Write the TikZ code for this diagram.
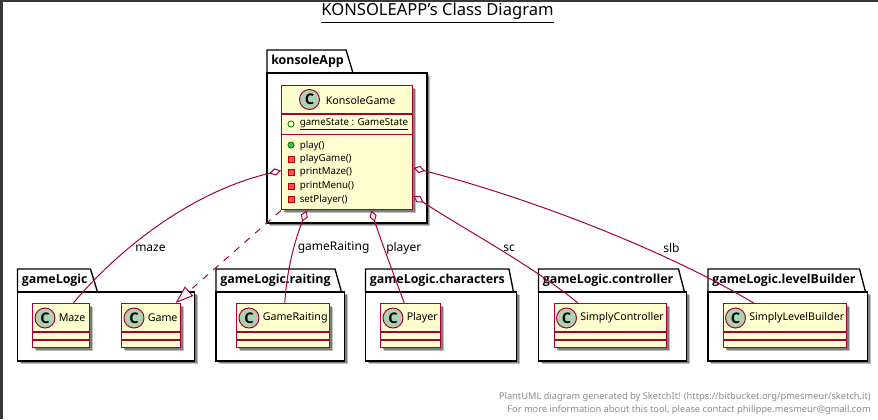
\documentclass[tikz,border=0pt]{standalone}
\usepackage{fontspec}
\setmainfont{Noto Sans}
\newfontfamily\boldfont{Open Sans}
\usetikzlibrary{arrows.meta,shadows}

\definecolor{umlred}{HTML}{A80036}
\definecolor{umlfill}{HTML}{FEFECE}
\definecolor{umlgreen}{HTML}{ADD1B2}

\tikzset{
  softshadow/.style={drop shadow={shadow xshift=2.6pt,shadow yshift=-2.6pt,opacity=.25,fill=black},
                     drop shadow={shadow xshift=1.8pt,shadow yshift=-1.8pt,opacity=.35,fill=black}},
  pkgbody/.style={draw=black,line width=1pt,fill=white,rectangle,inner sep=0pt,softshadow},
  pkgtab/.style={draw=black,line width=1pt,fill=white,line join=miter},
  pkgname/.style={anchor=west,inner sep=0pt,font=\boldfont\bfseries\fontsize{9.3pt}{12pt}\selectfont},
  classbody/.style={draw=umlred,line width=1.1pt,fill=umlfill,rectangle,inner sep=0pt,anchor=north west,softshadow},
  classline/.style={draw=umlred,line width=1.1pt},
  classmark/.style={circle,draw=umlred,line width=.75pt,fill=umlgreen,minimum size=15pt,inner sep=0pt,font=\boldfont\bfseries\fontsize{11pt}{12pt}\selectfont},
  classname/.style={anchor=west,inner sep=0pt,font=\fontsize{8pt}{10pt}\selectfont},
  member/.style={anchor=west,inner sep=0pt,font=\fontsize{7.3pt}{9pt}\selectfont},
  pubmark/.style={circle,draw=green!45!black,line width=.6pt,minimum size=4.6pt,inner sep=0pt},
  primark/.style={rectangle,draw=red!70!black,fill=red!70!white,line width=.5pt,minimum size=4.6pt,inner sep=0pt},
  edgename/.style={anchor=west,inner sep=0pt,font=\fontsize{9pt}{11pt}\selectfont},
  footer/.style={anchor=east,inner sep=0pt,text=black!45,font=\fontsize{6.96pt}{9pt}\selectfont},
  assoc/.style={draw=umlred,line width=.75pt,{Diamond[open,fill=white,length=9pt,width=5.5pt]}-},
  realize/.style={draw=umlred,line width=.75pt,dash pattern=on 5.2pt off 5.2pt,-{Triangle[open,fill=white,length=13.5pt,width=9.4pt]}}
}

% package: name, label, left, tab top right, tab base right, right, top of body, bottom
\newcommand{\pkgbox}[8]{
  \draw[pkgtab] (#3,#7) -- (#3,#7-23) -- (#4,#7-23) -- (#5,#7) -- cycle;
  \node[pkgbody,minimum width={(#6-#3)*0.75pt},minimum height={(#8-#7)*0.75pt}] (#1) at ({(#3+#6)/2},{(#7+#8)/2}) {};
  \node[pkgname] (#1Name) at (#3+4,#7-11.5) {#2};
}

% class with empty compartments: name, left, right, label
\newcommand{\classbox}[4]{
  \node[classbody,minimum width={(#3-#2)*0.75pt},minimum height=33pt] (#1) at (#2,303) {};
  \node[classmark] (#1Mark) at (#2+13,318) {C};
  \node[classname] (#1Name) at (#2+26.5,318) {#4};
  \draw[classline] (#2,332) -- (#3,332);
  \draw[classline] (#2,340) -- (#3,340);
}

\begin{document}
\begin{tikzpicture}[x=0.75pt,y=-0.75pt]

    % Page and the dark strips at its edge
    \useasboundingbox (0,0) rectangle (878,419);
    \fill[white] (0,0) rectangle (878,419);
    \fill[black!78] (0,0) rectangle (878,2);
    \fill[black!78] (0,0) rectangle (3,419);

    % Title
    \node[inner sep=0pt,font=\fontsize{12.43pt}{16pt}\selectfont] (title) at (437.5,13) {\underline{KONSOLEAPP's Class Diagram}};

    % Packages
    \pkgbox{konsoleApp}{konsoleApp}{267}{346}{353}{427}{73}{223}
    \pkgbox{gameLogic}{gameLogic}{17.5}{90.5}{97.5}{194.5}{292}{361}
    \pkgbox{gameLogicRaiting}{gameLogic.raiting}{216}{335}{341.5}{344.5}{292}{361}
    \pkgbox{gameLogicCharacters}{gameLogic.characters}{365.5}{509}{513.5}{516.5}{292}{361}
    \pkgbox{gameLogicController}{gameLogic.controller}{538.5}{678.5}{684.5}{686.5}{292}{361}
    \pkgbox{gameLogicBuilder}{gameLogic.levelBuilder}{708}{859.5}{865.5}{867.5}{292}{361}

    % The main class
    \node[classbody,minimum width=98.25pt,minimum height=93pt] (KonsoleGame) at (281,85) {};
    \node[classmark] (KonsoleGameMark) at (309.5,99.5) {C};
    \node[classname] (KonsoleGameName) at (325.5,100) {KonsoleGame};
    \draw[classline] (281,114) -- (412,114);
    \draw[classline] (281,134.5) -- (412,134.5);

    % Its members
    \node[pubmark] (gameStateMark) at (291,124) {};
    \node[member] (gameState) at (299.5,124.5) {\underline{gameState : GameState}};
    \node[pubmark,fill=green!45!gray] (playMark) at (291,145) {};
    \node[member] (play) at (299.5,145.5) {play()};
    \node[primark] (playGameMark) at (291,159) {};
    \node[member] (playGame) at (299.5,159) {playGame()};
    \node[primark] (printMazeMark) at (291,172.5) {};
    \node[member] (printMaze) at (299.5,172.5) {printMaze()};
    \node[primark] (printMenuMark) at (291,186) {};
    \node[member] (printMenu) at (299.5,186) {printMenu()};
    \node[primark] (setPlayerMark) at (291,199) {};
    \node[member] (setPlayer) at (299.5,199.5) {setPlayer()};

    % The classes in the lower row
    \classbox{Maze}{32}{89}{Maze}
    \classbox{Game}{121}{180}{Game}
    \classbox{GameRaiting}{236}{329}{GameRaiting}
    \classbox{Player}{380}{440}{Player}
    \classbox{SimplyController}{553.5}{666}{SimplyController}
    \classbox{SimplyLevelBuilder}{722.5}{846}{SimplyLevelBuilder}

    % Associations and the dashed dependency
    \draw[assoc] (KonsoleGame.199.35) .. controls (190,192) and (118,250) .. (Maze.62.4);
    \draw[realize] (KonsoleGame.south west) -- (Game.43.7);
    \draw[assoc] (KonsoleGame.237.5) .. controls (297,235) and (287,265) .. (GameRaiting.86.1);
    \draw[assoc] (KonsoleGame.291.3) .. controls (378,232) and (392,270) .. (Player.106.9);
    \draw[assoc] (KonsoleGame.-36.2) .. controls (462,228) and (530,264) .. (SimplyController.145);
    \draw[assoc] (KonsoleGame.-17) .. controls (530,198) and (665,250) .. (SimplyLevelBuilder.144.5);

    % Labels of the associations
    \node[edgename] (mazeLabel) at (135,248) {maze};
    \node[edgename] (gameRaitingLabel) at (297.5,248) {gameRaiting};
    \node[edgename] (playerLabel) at (386,248) {player};
    \node[edgename] (scLabel) at (503,248) {sc};
    \node[edgename] (slbLabel) at (663,248) {slb};

    % Footer
    \node[footer] (footerTop) at (871,397) {PlantUML diagram generated by SketchIt! (https://bitbucket.org/pmesmeur/sketch.it)};
    \node[footer] (footerBottom) at (871,410) {For more information about this tool, please contact philippe.mesmeur@gmail.com};

\end{tikzpicture}
\end{document}
